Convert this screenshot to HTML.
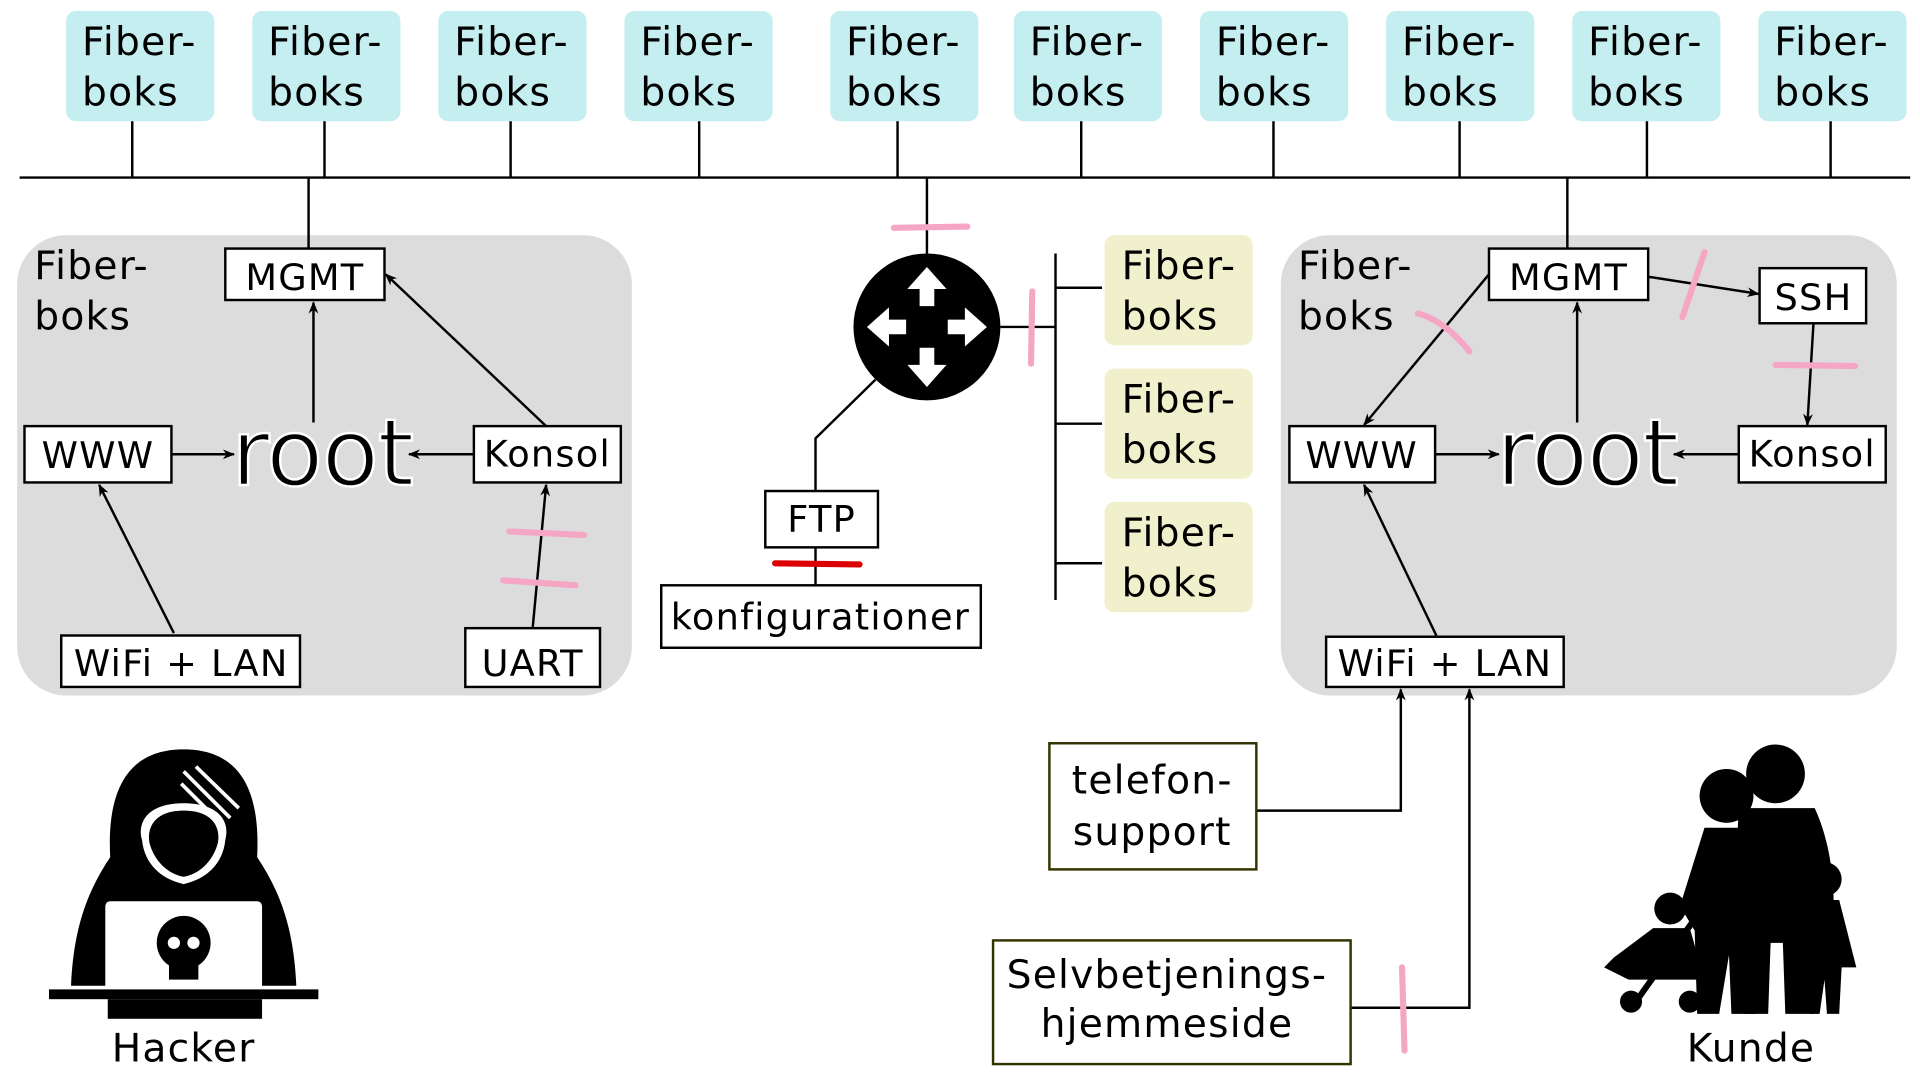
<!DOCTYPE html>
<html><head><meta charset="utf-8"><style>
html,body{margin:0;padding:0;background:#fff;}
svg{display:block;}
text{font-family:"DejaVu Sans","Liberation Sans",sans-serif;fill:#000;letter-spacing:1px;}
</style></head><body>
<svg width="1920" height="1080" viewBox="0 0 1568 882" preserveAspectRatio="none" xmlns="http://www.w3.org/2000/svg">
<defs>
<marker id="a" markerWidth="10" markerHeight="10" refX="9" refY="5" orient="auto" markerUnits="userSpaceOnUse">
<path d="M0,1 L10,5 L0,9 L3,5 Z" fill="#000"/></marker>
</defs>
<rect width="1568" height="882" fill="#fff"/>
<g font-size="32">
<g fill="#c5eef0">
<rect x="54" y="9" width="121" height="90" rx="8"/><rect x="206" y="9" width="121" height="90" rx="8"/>
<rect x="358" y="9" width="121" height="90" rx="8"/><rect x="510" y="9" width="121" height="90" rx="8"/>
<rect x="678" y="9" width="121" height="90" rx="8"/><rect x="828" y="9" width="121" height="90" rx="8"/>
<rect x="980" y="9" width="121" height="90" rx="8"/><rect x="1132" y="9" width="121" height="90" rx="8"/>
<rect x="1284" y="9" width="121" height="90" rx="8"/><rect x="1436" y="9" width="121" height="90" rx="8"/>
</g>
<text x="67" y="45">Fiber-</text><text x="67" y="86">boks</text>
<text x="219" y="45">Fiber-</text><text x="219" y="86">boks</text>
<text x="371" y="45">Fiber-</text><text x="371" y="86">boks</text>
<text x="523" y="45">Fiber-</text><text x="523" y="86">boks</text>
<text x="691" y="45">Fiber-</text><text x="691" y="86">boks</text>
<text x="841" y="45">Fiber-</text><text x="841" y="86">boks</text>
<text x="993" y="45">Fiber-</text><text x="993" y="86">boks</text>
<text x="1145" y="45">Fiber-</text><text x="1145" y="86">boks</text>
<text x="1297" y="45">Fiber-</text><text x="1297" y="86">boks</text>
<text x="1449" y="45">Fiber-</text><text x="1449" y="86">boks</text>
</g>
<g stroke="#000" stroke-width="2" fill="none">
<line x1="16" y1="145" x2="1560" y2="145"/>
<line x1="108" y1="99" x2="108" y2="145"/><line x1="265" y1="99" x2="265" y2="145"/>
<line x1="417" y1="99" x2="417" y2="145"/><line x1="571" y1="99" x2="571" y2="145"/>
<line x1="733" y1="99" x2="733" y2="145"/><line x1="883" y1="99" x2="883" y2="145"/>
<line x1="1040" y1="99" x2="1040" y2="145"/><line x1="1192" y1="99" x2="1192" y2="145"/>
<line x1="1345" y1="99" x2="1345" y2="145"/><line x1="1495" y1="99" x2="1495" y2="145"/>
</g>
<rect x="14" y="192" width="502" height="376" rx="40" fill="#dcdcdc"/>
<text x="28" y="228" font-size="32">Fiber-</text><text x="28" y="269" font-size="32">boks</text>
<g stroke="#000" stroke-width="2" fill="#fff">
<line x1="252" y1="145" x2="252" y2="203"/>
<rect x="184" y="203" width="130" height="42"/>
<rect x="20" y="348" width="120" height="46"/>
<rect x="387" y="348" width="120" height="46"/>
<rect x="50" y="519" width="195" height="42"/>
<rect x="380" y="513" width="110" height="48"/>
</g>
<g font-size="30">
<text x="249" y="237" text-anchor="middle">MGMT</text>
<text x="80" y="382" text-anchor="middle">WWW</text>
<text x="447" y="381" text-anchor="middle">Konsol</text>
<text x="148" y="552" text-anchor="middle">WiFi + LAN</text>
<text x="435" y="552" text-anchor="middle">UART</text>
</g>
<text x="263" y="396" font-size="76" text-anchor="middle" fill="#000" stroke="#fff" stroke-width="2" style="letter-spacing:-1px">root</text>
<g stroke="#000" stroke-width="2" marker-end="url(#a)">
<line x1="140" y1="371" x2="191" y2="371"/>
<line x1="256" y1="345" x2="256" y2="247"/>
<line x1="387" y1="371" x2="334" y2="371"/>
<line x1="446" y1="348" x2="315" y2="224"/>
<line x1="142" y1="517" x2="81" y2="396"/>
<line x1="435" y1="513" x2="446" y2="396"/>
</g>
<g stroke="#f4a6c4" stroke-width="5" stroke-linecap="round">
<line x1="416" y1="434" x2="477" y2="437"/><line x1="411" y1="474" x2="470" y2="478"/>
</g>
<line x1="757" y1="145" x2="757" y2="207" stroke="#000" stroke-width="2"/>
<line x1="730" y1="186" x2="790" y2="185" stroke="#f4a6c4" stroke-width="5" stroke-linecap="round"/>
<circle cx="757" cy="267" r="60" fill="#000"/>
<g fill="#fff">
<path d="M757,218 L773,236 L763,236 L763,250 L751,250 L751,236 L741,236 Z"/>
<path d="M757,316 L773,298 L763,298 L763,284 L751,284 L751,298 L741,298 Z"/>
<path d="M708,267 L726,251 L726,261 L740,261 L740,273 L726,273 L726,283 Z"/>
<path d="M806,267 L788,251 L788,261 L774,261 L774,273 L788,273 L788,283 Z"/>
</g>
<g stroke="#000" stroke-width="2" fill="none">
<line x1="817" y1="267" x2="862" y2="267"/>
<line x1="862" y1="207" x2="862" y2="490"/>
<line x1="862" y1="235" x2="900" y2="235"/><line x1="862" y1="346" x2="900" y2="346"/><line x1="862" y1="460" x2="900" y2="460"/>
<polyline points="715,310 666,358 666,401"/>
<line x1="666" y1="447" x2="666" y2="478"/>
</g>
<line x1="843" y1="238" x2="842" y2="297" stroke="#f4a6c4" stroke-width="5" stroke-linecap="round"/>
<g fill="#f0f0cc">
<rect x="902" y="192" width="121" height="90" rx="8"/><rect x="902" y="301" width="121" height="90" rx="8"/><rect x="902" y="410" width="121" height="90" rx="8"/>
</g>
<g font-size="32">
<text x="916" y="228">Fiber-</text><text x="916" y="269">boks</text>
<text x="916" y="337">Fiber-</text><text x="916" y="378">boks</text>
<text x="916" y="446">Fiber-</text><text x="916" y="487">boks</text>
</g>
<rect x="625" y="401" width="92" height="46" fill="#fff" stroke="#000" stroke-width="2"/>
<text x="671" y="434" font-size="30" text-anchor="middle">FTP</text>
<line x1="633" y1="460" x2="702" y2="461" stroke="#dd0000" stroke-width="5" stroke-linecap="round"/>
<rect x="540" y="478" width="261" height="51" fill="#fff" stroke="#000" stroke-width="2"/>
<text x="670" y="514" font-size="30" text-anchor="middle">konfigurationer</text>
<rect x="1046" y="192" width="503" height="376" rx="40" fill="#dcdcdc"/>
<text x="1060" y="228" font-size="32">Fiber-</text><text x="1060" y="269" font-size="32">boks</text>
<g stroke="#000" stroke-width="2" fill="#fff">
<line x1="1280" y1="145" x2="1280" y2="203"/>
<rect x="1216" y="203" width="130" height="42"/>
<rect x="1437" y="219" width="87" height="45"/>
<rect x="1053" y="348" width="119" height="46"/>
<rect x="1420" y="348" width="120" height="46"/>
<rect x="1083" y="520" width="194" height="41"/>
</g>
<g font-size="30">
<text x="1281" y="237" text-anchor="middle">MGMT</text>
<text x="1481" y="253" text-anchor="middle">SSH</text>
<text x="1112" y="382" text-anchor="middle">WWW</text>
<text x="1480" y="381" text-anchor="middle">Konsol</text>
<text x="1180" y="552" text-anchor="middle">WiFi + LAN</text>
</g>
<text x="1296" y="396" font-size="76" text-anchor="middle" fill="#000" stroke="#fff" stroke-width="2" style="letter-spacing:-1px">root</text>
<g stroke="#000" stroke-width="2" marker-end="url(#a)">
<line x1="1346" y1="226" x2="1436" y2="240"/>
<line x1="1481" y1="264" x2="1476" y2="347"/>
<line x1="1420" y1="371" x2="1367" y2="371"/>
<line x1="1288" y1="345" x2="1288" y2="247"/>
<line x1="1216" y1="224" x2="1114" y2="347"/>
<line x1="1172" y1="371" x2="1224" y2="371"/>
<line x1="1173" y1="519" x2="1114" y2="396"/>
<polyline points="1026,662 1144,662 1144,563" fill="none"/>
<polyline points="1103,823 1200,823 1200,563" fill="none"/>
</g>
<g stroke="#f4a6c4" stroke-width="5" stroke-linecap="round" fill="none">
<line x1="1392" y1="206" x2="1374" y2="259"/>
<line x1="1450" y1="298" x2="1515" y2="299"/>
<path d="M1158,256 Q1180,262 1200,287"/>
<line x1="1145" y1="790" x2="1147" y2="858"/>
</g>
<rect x="857" y="607" width="169" height="103" fill="#fff" stroke="#333300" stroke-width="2"/>
<text x="941" y="648" font-size="32" text-anchor="middle">telefon-</text>
<text x="941" y="690" font-size="32" text-anchor="middle">support</text>
<rect x="811" y="768" width="292" height="101" fill="#fff" stroke="#333300" stroke-width="2"/>
<text x="953" y="807" font-size="32" text-anchor="middle">Selvbetjenings-</text>
<text x="953" y="847" font-size="32" text-anchor="middle">hjemmeside</text>
<g>
<path d="M150,612 C95,612 88,660 90,700 C70,730 60,760 58,805 L242,805 C240,760 230,730 210,700 C212,660 205,612 150,612 Z" fill="#000"/>
<path d="M150,656 C120,656 112,672 116,686 C118,706 132,718 150,722 C168,718 182,706 184,686 C188,672 180,656 150,656 Z" fill="#fff"/>
<path d="M150,662 C126,662 120,676 122,688 C126,704 138,714 150,716 C162,714 174,704 178,688 C180,676 174,662 150,662 Z" fill="#000"/>
<g stroke="#fff" stroke-width="3"><line x1="150" y1="630" x2="188" y2="668"/><line x1="160" y1="626" x2="195" y2="660"/><line x1="148" y1="640" x2="182" y2="674"/></g>
<rect x="86" y="736" width="128" height="85" rx="4" fill="#fff"/>
<rect x="40" y="808" width="220" height="8" fill="#000"/>
<rect x="88" y="816" width="126" height="16" fill="#000"/>
<circle cx="150" cy="770" r="22" fill="#000"/>
<rect x="138" y="786" width="24" height="14" fill="#000"/>
<circle cx="142" cy="770" r="5" fill="#fff"/><circle cx="158" cy="770" r="5" fill="#fff"/>
<text x="150" y="867" font-size="32" text-anchor="middle">Hacker</text>
</g>
<g fill="#000">
<circle cx="1450" cy="632" r="24"/>
<path d="M1420,660 L1482,660 C1496,690 1500,730 1496,760 L1484,760 L1482,828 L1458,828 L1456,770 L1446,770 L1444,828 L1424,828 L1424,770 L1418,700 Z"/>
<circle cx="1410" cy="650" r="22"/>
<path d="M1392,676 L1430,676 C1448,700 1452,740 1446,760 L1436,760 L1434,828 L1414,828 L1412,780 L1404,828 L1386,828 L1384,760 L1372,740 Z"/>
<circle cx="1490" cy="718" r="14"/>
<path d="M1478,735 L1502,735 L1516,790 L1504,790 L1502,828 L1492,828 L1490,800 L1486,828 L1478,828 L1476,790 L1466,790 Z"/>
<circle cx="1364" cy="742" r="13"/>
<path d="M1350,758 L1380,758 L1392,800 L1330,800 L1310,790 L1318,782 Z"/>
<circle cx="1332" cy="818" r="9"/><circle cx="1380" cy="818" r="9"/>
</g>
<path d="M1336,818 L1390,742 C1400,728 1416,732 1412,748" stroke="#000" stroke-width="5" fill="none"/>
<text x="1430" y="867" font-size="32" text-anchor="middle">Kunde</text>
</svg>
</body></html>
